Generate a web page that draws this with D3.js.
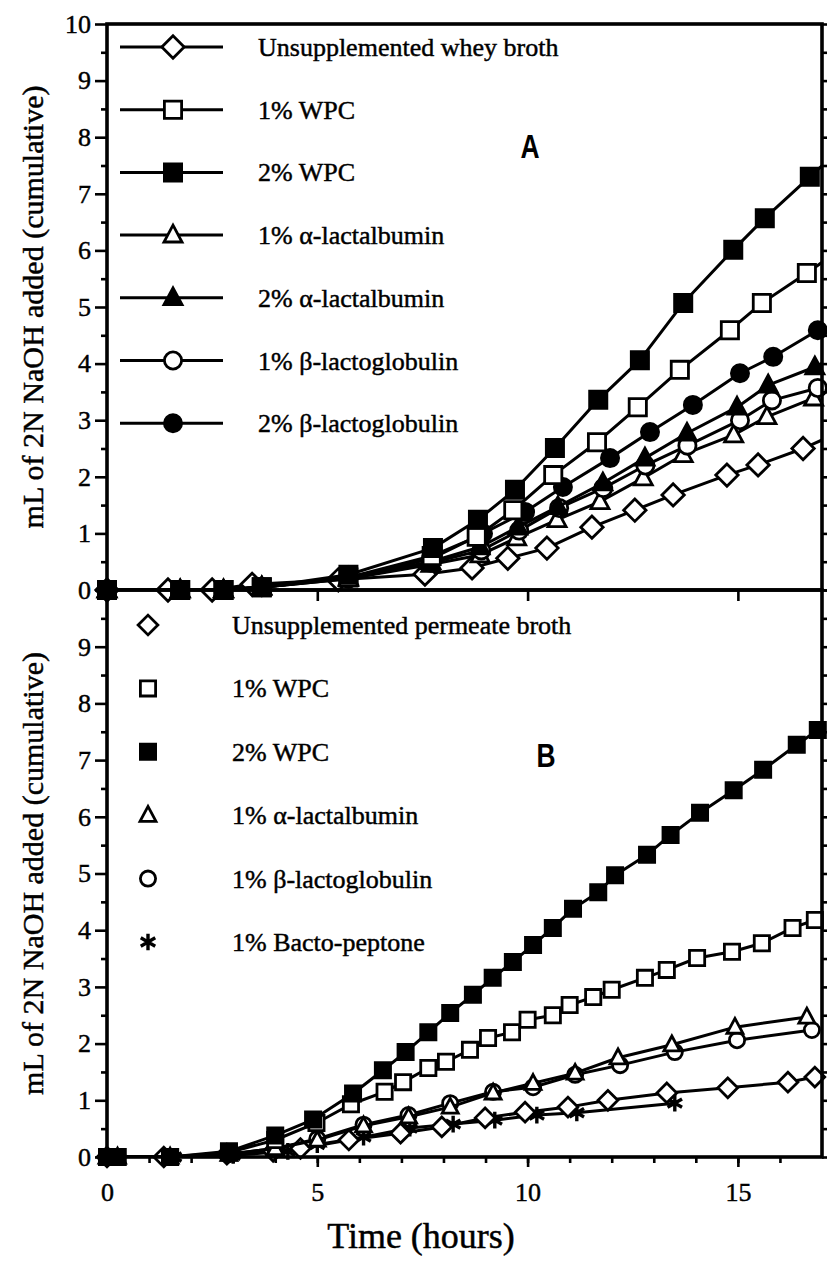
<!DOCTYPE html>
<html>
<head>
<meta charset="utf-8">
<script src="https://cdn.jsdelivr.net/npm/d3@7"></script>
<style>
  body { margin: 0; background: #fff; }
  svg { display: block; }
</style>
</head>
<body>
<svg id="chart" width="827" height="1261"></svg>
<script>
// ---- Panel A: whey broth supplements (time in hours, mL of 2N NaOH) ----
const labelsA = ["Unsupplemented whey broth", "1% WPC", "2% WPC", "1% \u03b1-lactalbumin",
                 "2% \u03b1-lactalbumin", "1% \u03b2-lactoglobulin", "2% \u03b2-lactoglobulin"];
const tA_whey = [0, 1.45, 2.5, 3.45, 5.5, 7.56, 8.68, 9.53, 10.46, 11.53, 12.55, 13.46, 14.74, 15.48, 16.55, 17.6];
const vA_whey = [0, 0, 0, 0.1, 0.18, 0.28, 0.39, 0.56, 0.74, 1.11, 1.41, 1.68, 2.03, 2.21, 2.5, 2.85];
const tA_wpc1 = [0, 1.74, 2.77, 3.68, 5.74, 7.72, 8.79, 9.66, 10.61, 11.65, 12.62, 13.62, 14.81, 15.57, 16.64, 17.6];
const vA_wpc1 = [0, 0, 0, 0.05, 0.22, 0.6, 0.94, 1.41, 2.03, 2.61, 3.23, 3.89, 4.59, 5.07, 5.6, 6.1];
const tA_wpc2 = [0, 1.74, 2.77, 3.68, 5.74, 7.75, 8.82, 9.7, 10.65, 11.68, 12.67, 13.7, 14.89, 15.64, 16.71, 17.6];
const vA_wpc2 = [0, 0, 0, 0.05, 0.27, 0.74, 1.24, 1.77, 2.51, 3.36, 4.06, 5.07, 6.01, 6.57, 7.3, 7.9];
const tA_ala1 = [0, 1.74, 2.77, 3.68, 5.74, 7.7, 8.87, 9.74, 10.7, 11.72, 12.75, 13.7, 14.9, 15.69, 16.8, 17.6];
const vA_ala1 = [0, 0, 0, 0.05, 0.2, 0.45, 0.62, 0.92, 1.24, 1.56, 1.98, 2.39, 2.74, 3.06, 3.39, 3.65];
const tA_ala2 = [0, 1.74, 2.77, 3.68, 5.74, 7.7, 8.87, 9.77, 10.72, 11.79, 12.79, 13.79, 14.98, 15.72, 16.83, 17.6];
const vA_ala2 = [0, 0, 0, 0.05, 0.22, 0.5, 0.76, 1.11, 1.47, 1.89, 2.33, 2.77, 3.23, 3.62, 3.94, 4.25];
const tA_blg1 = [0, 1.74, 2.77, 3.68, 5.74, 7.7, 8.9, 9.8, 10.75, 11.8, 12.8, 13.8, 15.05, 15.81, 16.9, 17.6];
const vA_blg1 = [0, 0, 0, 0.05, 0.2, 0.48, 0.7, 1.05, 1.45, 1.8, 2.2, 2.55, 3.0, 3.35, 3.57, 3.8];
const tA_blg2 = [0, 1.74, 2.77, 3.68, 5.74, 7.7, 8.94, 9.94, 10.84, 11.96, 12.91, 13.93, 15.05, 15.84, 16.9, 17.6];
const vA_blg2 = [0, 0, 0, 0.05, 0.22, 0.55, 1.0, 1.38, 1.82, 2.33, 2.79, 3.27, 3.83, 4.12, 4.59, 4.9];

// ---- Panel B: permeate broth supplements ----
const labelsB = ["Unsupplemented permeate broth", "1% WPC", "2% WPC", "1% \u03b1-lactalbumin",
                 "1% \u03b2-lactoglobulin", "1% Bacto-peptone"];
const tB_perm = [0, 1.35, 2.85, 3.95, 4.6, 5.75, 6.98, 7.96, 8.99, 9.94, 10.96, 11.91, 13.31, 14.76, 16.19, 16.83];
const vB_perm = [0, 0, 0.05, 0.1, 0.15, 0.3, 0.42, 0.53, 0.69, 0.79, 0.88, 1.0, 1.13, 1.22, 1.32, 1.41];
const tB_wpc1 = [0, 0.25, 1.5, 2.9, 4.0, 4.98, 5.8, 6.6, 7.04, 7.64, 8.06, 8.63, 9.06, 9.63, 10.0, 10.6, 11.0, 11.56, 12.0, 12.79, 13.31, 14.03, 14.86, 15.57, 16.3, 16.83];
const vB_wpc1 = [0, 0, 0, 0.08, 0.3, 0.6, 0.93, 1.15, 1.32, 1.57, 1.68, 1.89, 2.1, 2.2, 2.42, 2.5, 2.68, 2.82, 2.95, 3.16, 3.3, 3.51, 3.62, 3.77, 4.04, 4.18];
const tB_wpc2 = [0, 0.25, 1.5, 2.9, 4.0, 4.9, 5.85, 6.56, 7.1, 7.64, 8.16, 8.7, 9.17, 9.65, 10.13, 10.6, 11.08, 11.68, 12.08, 12.84, 13.4, 14.1, 14.9, 15.6, 16.4, 16.9];
const vB_wpc2 = [0, 0, 0, 0.1, 0.38, 0.66, 1.12, 1.53, 1.85, 2.2, 2.54, 2.86, 3.16, 3.44, 3.74, 4.04, 4.38, 4.67, 4.97, 5.33, 5.68, 6.07, 6.47, 6.83, 7.27, 7.53];
const tB_ala1 = [0, 0.25, 1.5, 2.9, 4.0, 5.0, 6.1, 7.17, 8.16, 9.18, 10.13, 11.13, 12.15, 13.43, 14.93, 16.64];
const vB_ala1 = [0, 0, 0, 0.05, 0.15, 0.3, 0.55, 0.71, 0.88, 1.13, 1.3, 1.48, 1.75, 1.98, 2.29, 2.47];
const tB_blg1 = [0, 0.25, 1.5, 2.9, 4.0, 5.0, 6.1, 7.17, 8.16, 9.18, 10.13, 11.13, 12.2, 13.5, 14.98, 16.76];
const vB_blg1 = [0, 0, 0, 0.05, 0.15, 0.32, 0.57, 0.74, 0.95, 1.15, 1.23, 1.45, 1.62, 1.85, 2.06, 2.24];
const tB_pep = [0.25, 1.6, 3.0, 4.3, 5.0, 6.1, 7.2, 8.23, 9.22, 10.22, 11.17, 13.5];
const vB_pep = [0, 0, 0.03, 0.1, 0.22, 0.35, 0.51, 0.58, 0.65, 0.74, 0.78, 0.95];

// ---- Axis tick values ----
const yTickValues = [0, 1, 2, 3, 4, 5, 6, 7, 8, 9, 10];
const xTickValues = [0, 5, 10, 15];

// ---- Layout ----
const svg = d3.select("#chart");
const x = d3.scaleLinear().domain([0, 17]).range([107, 822]);
const yA = d3.scaleLinear().domain([0, 10]).range([590, 24]);
const yB = d3.scaleLinear().domain([0, 10]).range([1157, 590]);
const serif = "'Liberation Serif', 'Times New Roman', serif";
const LW = 3;          // data line width
const textHalo = 0.45; // slight stroke that thickens the serif lettering

// marker outlines centred at the origin; r is the half width
function shapePath(kind, r) {
  if (kind === "square") return `M${-r},${-r}H${r}V${r}H${-r}Z`;
  if (kind === "diamond") { const s = r * 1.3; return `M0,${-s}L${s},0L0,${s}L${-s},0Z`; }
  if (kind === "triangle") return `M0,${-r * 1.15}L${r * 1.05},${r * 0.8}L${-r * 1.05},${r * 0.8}Z`;
  if (kind === "circle") return d3.arc()({innerRadius: 0, outerRadius: r, startAngle: 0, endAngle: 2 * Math.PI});
  if (kind === "asterisk") {
    let p = "";
    [90, 30, 150].forEach(a => {
      const dx = Math.cos(a * Math.PI / 180) * r, dy = Math.sin(a * Math.PI / 180) * r;
      p += `M${-dx},${-dy}L${dx},${dy}`;
    });
    return p;
  }
}

function drawMarker(g, kind, filled, r, cx, cy) {
  g.append("path")
    .attr("transform", `translate(${cx},${cy})`)
    .attr("d", shapePath(kind, kind === "asterisk" ? r * 1.1 : r))
    .attr("fill", kind === "asterisk" ? "none" : (filled ? "#000" : "#fff"))
    .attr("stroke", "#000")
    .attr("stroke-width", kind === "asterisk" ? 3.4 : 2.8)
    .attr("stroke-linejoin", "miter");
}

// clip for the connecting lines of each panel
const defs = svg.append("defs");
defs.append("clipPath").attr("id", "clipA").append("rect")
  .attr("x", x(0)).attr("y", yA(10)).attr("width", x(17) - x(0)).attr("height", yA(0) - yA(10));
defs.append("clipPath").attr("id", "clipB").append("rect")
  .attr("x", x(0)).attr("y", yB(10)).attr("width", x(17) - x(0)).attr("height", yB(0) - yB(10));

function drawSeries(y, clipId, times, values, kind, filled, r) {
  const pts = times.map((t, i) => [t, values[i]]);
  const line = d3.line().x(d => x(d[0])).y(d => y(d[1]));
  const g = svg.append("g");
  g.append("path").datum(pts)
    .attr("d", line)
    .attr("clip-path", `url(#${clipId})`)
    .attr("fill", "none").attr("stroke", "#000").attr("stroke-width", LW)
    .attr("stroke-linejoin", "round");
  pts.filter(d => d[0] <= 17).forEach(d => drawMarker(g, kind, filled, r, x(d[0]), y(d[1])));
}

// ---- Series, panel A ----
const styleA = [
  ["diamond", false], ["square", false], ["square", true], ["triangle", false],
  ["triangle", true], ["circle", false], ["circle", true]
];
const dataA = [
  [tA_whey, vA_whey], [tA_wpc1, vA_wpc1], [tA_wpc2, vA_wpc2], [tA_ala1, vA_ala1],
  [tA_ala2, vA_ala2], [tA_blg1, vA_blg1], [tA_blg2, vA_blg2]
];
[0, 3, 5, 4, 6, 1, 2].forEach(i =>
  drawSeries(yA, "clipA", dataA[i][0], dataA[i][1], styleA[i][0], styleA[i][1], 8.6));

// ---- Series, panel B ----
const styleB = [
  ["diamond", false], ["square", false], ["square", true], ["triangle", false],
  ["circle", false], ["asterisk", false]
];
const dataB = [
  [tB_perm, vB_perm], [tB_wpc1, vB_wpc1], [tB_wpc2, vB_wpc2], [tB_ala1, vB_ala1],
  [tB_blg1, vB_blg1], [tB_pep, vB_pep]
];
[5, 0, 4, 3, 1, 2].forEach(i =>
  drawSeries(yB, "clipB", dataB[i][0], dataB[i][1], styleB[i][0], styleB[i][1], 7.6));

// ---- Axes ----
function styleAxis(g) {
  g.select(".domain").remove();
  g.selectAll(".tick line").attr("stroke", "#000").attr("stroke-width", 2.6);
  g.selectAll(".tick text").attr("font-family", serif).attr("font-size", 26).attr("fill", "#000")
    .attr("stroke", "#000").attr("stroke-width", textHalo);
}
const halves = d3.range(0.5, 10, 1);
const allHalves = d3.range(0, 10.01, 0.5);

[[yA, yTickValues], [yB, yTickValues.slice(0, 10)]].forEach(([y, vals]) => {
  svg.append("g").attr("transform", `translate(${x(0)},0)`)
    .call(d3.axisLeft(y).tickValues(vals).tickSize(12).tickPadding(4).tickFormat(d3.format("d")))
    .call(styleAxis);
  svg.append("g").attr("transform", `translate(${x(0)},0)`)
    .call(d3.axisLeft(y).tickValues(halves).tickSize(6).tickFormat(""))
    .call(styleAxis);
  svg.append("g").attr("transform", `translate(${x(17)},0)`)
    .call(d3.axisRight(y).tickValues(allHalves).tickSize(6).tickFormat(""))
    .call(styleAxis);
});

// bottom time axis
svg.append("g").attr("transform", `translate(0,${yB(0)})`)
  .call(d3.axisBottom(x).tickValues(xTickValues).tickSize(10).tickPadding(16).tickFormat(d3.format("d")))
  .call(styleAxis);
svg.append("g").attr("transform", `translate(0,${yB(0)})`)
  .call(d3.axisBottom(x).tickValues(d3.range(1, 17)).tickSize(6).tickFormat(""))
  .call(styleAxis);
// ticks on the shared middle border
svg.append("g").attr("transform", `translate(0,${yA(0)})`)
  .call(d3.axisBottom(x).tickValues([5, 10, 15]).tickSize(11).tickFormat(""))
  .call(styleAxis);

// frame
const frame = svg.append("g").attr("stroke", "#000").attr("stroke-width", 3.6).attr("fill", "none");
frame.append("rect").attr("x", x(0)).attr("y", yA(10)).attr("width", x(17) - x(0)).attr("height", yA(0) - yA(10));
frame.append("rect").attr("x", x(0)).attr("y", yB(10)).attr("width", x(17) - x(0)).attr("height", yB(0) - yB(10));

// ---- Axis titles ----
const yTitle = "mL of 2N NaOH added (cumulative)";
[[yA], [yB]].forEach(([y]) => {
  const cy = (y(0) + y(10)) / 2;
  svg.append("text")
    .attr("transform", `translate(43,${cy}) rotate(-90)`)
    .attr("text-anchor", "middle")
    .attr("font-family", serif).attr("font-size", 30)
    .attr("stroke", "#000").attr("stroke-width", textHalo)
    .text(yTitle);
});
svg.append("text")
  .attr("x", 421).attr("y", 1248)
  .attr("text-anchor", "middle")
  .attr("font-family", serif).attr("font-size", 36)
  .attr("stroke", "#000").attr("stroke-width", textHalo)
  .text("Time (hours)");

// panel letters
svg.append("text").attr("x", 530).attr("y", 158).attr("text-anchor", "middle")
  .attr("font-family", "'Liberation Sans', Arial, sans-serif").attr("font-weight", "bold")
  .attr("font-size", 33).attr("transform", "translate(530,0) scale(0.8,1) translate(-530,0)")
  .text("A");
svg.append("text").attr("x", 546).attr("y", 767).attr("text-anchor", "middle")
  .attr("font-family", "'Liberation Sans', Arial, sans-serif").attr("font-weight", "bold")
  .attr("font-size", 33).attr("transform", "translate(546,0) scale(0.8,1) translate(-546,0)")
  .text("B");

// ---- Legends ----
const legA = svg.append("g");
labelsA.forEach((lab, i) => {
  const cy = 47 + i * 62.7;
  legA.append("line").attr("x1", 120).attr("x2", 223).attr("y1", cy).attr("y2", cy)
    .attr("stroke", "#000").attr("stroke-width", LW);
  drawMarker(legA, styleA[i][0], styleA[i][1], 8.6, 173, cy);
  legA.append("text").attr("x", 258).attr("y", cy + 9)
    .attr("font-family", serif).attr("font-size", 26)
    .attr("stroke", "#000").attr("stroke-width", textHalo).text(lab);
});
const legB = svg.append("g");
labelsB.forEach((lab, i) => {
  const cy = 625 + i * 63.4;
  drawMarker(legB, styleB[i][0], styleB[i][1], 7.6, 148, cy);
  legB.append("text").attr("x", 232).attr("y", cy + 9)
    .attr("font-family", serif).attr("font-size", 26)
    .attr("stroke", "#000").attr("stroke-width", textHalo).text(lab);
});
</script>
</body>
</html>
